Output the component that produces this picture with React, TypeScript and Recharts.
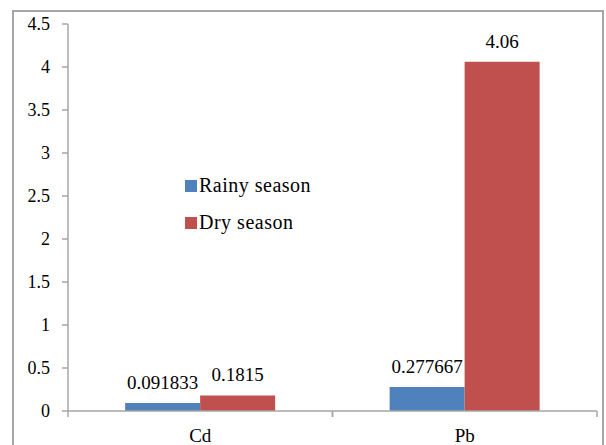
import React from 'react'
import { BarChart, Bar, XAxis, YAxis, Legend, LabelList } from 'recharts'

const metals = ['Cd', 'Pb']
const rainy = [0.091833, 0.277667]
const dry = [0.1815, 4.06]
const yTicks = [0, 0.5, 1, 1.5, 2, 2.5, 3, 3.5, 4, 4.5]

const data = metals.map((m, i) => ({ name: m, rainy: rainy[i], dry: dry[i] }))

const W = 606
const H = 445
const M = { top: 24, right: 9, left: 18, bottom: 4 }
const Y_W = 50
const BAND = (W - M.left - M.right - Y_W) / metals.length
const AXIS = '#a6a6a6'
const FONT = "'Liberation Serif', 'Times New Roman', Times, serif"

function XTick(props: any) {
  const { x, y, payload } = props
  const ay = y - 18
  return (
    <g>
      <line x1={x - BAND / 2} y1={ay} x2={x - BAND / 2} y2={ay + 6} stroke={AXIS} strokeWidth={1.5} />
      <line x1={x + BAND / 2} y1={ay} x2={x + BAND / 2} y2={ay + 6} stroke={AXIS} strokeWidth={1.5} />
      <text x={x} y={y} dy="0.71em" textAnchor="middle" fontSize={19} style={{ fontFamily: FONT }} fill="#000">
        {payload.value}
      </text>
    </g>
  )
}

function LegendBox() {
  const items = [
    { label: 'Rainy season', color: '#4f81bd' },
    { label: 'Dry season', color: '#c0504d' },
  ]
  return (
    <div style={{ fontFamily: FONT, fontSize: 20, color: '#000' }}>
      {items.map((it) => (
        <div key={it.label} style={{ display: 'flex', alignItems: 'center', height: 37 }}>
          <span style={{ display: 'inline-block', width: 12, height: 12, background: it.color, marginRight: 2 }} />
          <span style={{ letterSpacing: 0.5 }}>{it.label}</span>
        </div>
      ))}
    </div>
  )
}

export default function App() {
  return (
    <div style={{ position: 'absolute', left: 0, top: 0, width: W, height: H, background: '#fff' }}>
      <div
        style={{
          position: 'absolute',
          left: 12,
          top: 10,
          width: 592,
          height: 450,
          border: '2px solid #a6a6a6',
          boxSizing: 'border-box',
        }}
      />
      <BarChart width={W} height={H} data={data} margin={M} barCategoryGap="21.6%" barGap={0}>
        <XAxis
          dataKey="name"
          height={30}
          tickLine={false}
          tickSize={6}
          tickMargin={12}
          axisLine={{ stroke: AXIS, strokeWidth: 1.5 }}
          tick={<XTick />}
          interval={0}
        />
        <YAxis
          width={Y_W}
          domain={[0, 4.5]}
          ticks={yTicks}
          interval={0}
          tickSize={6}
          tickMargin={12}
          axisLine={{ stroke: AXIS, strokeWidth: 1.5 }}
          tickLine={{ stroke: AXIS, strokeWidth: 1.5 }}
          tick={{ fill: '#000', fontSize: 18, style: { fontFamily: FONT } }}
        />
        <Legend
          layout="vertical"
          verticalAlign="middle"
          align="center"
          content={<LegendBox />}
          wrapperStyle={{ left: 185, top: 167, width: 160 }}
        />
        <Bar dataKey="rainy" fill="#4f81bd" isAnimationActive={false}>
          <LabelList dataKey="rainy" position="top" offset={14} fill="#000" fontSize={19} style={{ fontFamily: FONT }} />
        </Bar>
        <Bar dataKey="dry" fill="#c0504d" isAnimationActive={false}>
          <LabelList dataKey="dry" position="top" offset={14} fill="#000" fontSize={19} style={{ fontFamily: FONT }} />
        </Bar>
      </BarChart>
    </div>
  )
}
